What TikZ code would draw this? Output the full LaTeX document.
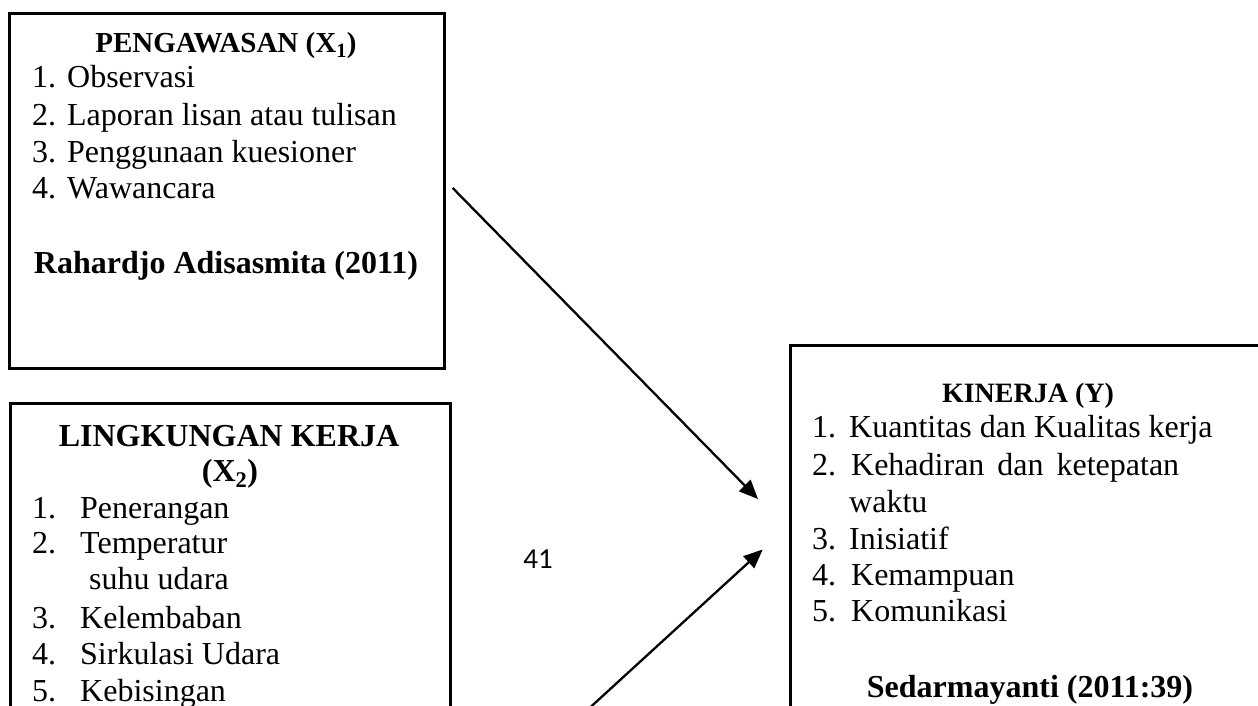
\documentclass[tikz,border=0pt]{standalone}
\usepackage{fontspec}
\setmainfont{Liberation Serif}
\newfontfamily\calib{Carlito}
\usetikzlibrary{arrows.meta}
\begin{document}
\begin{tikzpicture}[x=1pt,y=-1pt,
  box/.style={draw=black,line width=3pt,inner sep=0pt,outer sep=0pt,fill=none},
  txt/.style={anchor=base west,inner sep=0pt,font=\fontsize{32}{36}\selectfont},
  ttl/.style={anchor=base,inner sep=0pt,font=\fontsize{32}{36}\selectfont\bfseries},
  sttl/.style={anchor=base,inner sep=0pt,font=\fontsize{#1}{33}\selectfont\bfseries},
  arr/.style={line width=2.3pt,-{Triangle[length=19pt,width=16pt]}}]
\useasboundingbox (0,0) rectangle (1258,706);
\fill[white] (0,0) rectangle (1258,706);
% boxes
\node[box,minimum width=435pt,minimum height=354pt,anchor=north west] (b1) at (9,14) {};
\node[box,minimum width=440pt,minimum height=400pt,anchor=north west] (b2) at (10,403) {};
\node[box,minimum width=470pt,minimum height=420pt,anchor=north west] (b3) at (790,345) {};
% box 1
\node[sttl=29] (t1) at (226,53) {PENGAWASAN (X\textsubscript{1})};
\node[txt] (p1) at (32,88) {\makebox[35pt][l]{1.}Observasi};
\node[txt] (p2) at (32,125) {\makebox[35pt][l]{2.}Laporan lisan atau tulisan};
\node[txt] (p3) at (32,162) {\makebox[35pt][l]{3.}Penggunaan kuesioner};
\node[txt] (p4) at (32,198) {\makebox[35pt][l]{4.}Wawancara};
\node[ttl] (r1) at (226,273) {Rahardjo Adisasmita (2011)};
% box 2
\node[ttl] (t2) at (229,446) {LINGKUNGAN KERJA};
\node[ttl] (t2b) at (230,481) {(X\textsubscript{2})};
\node[txt] (l1) at (32,518) {\makebox[48pt][l]{1.}Penerangan};
\node[txt] (l2) at (32,553) {\makebox[48pt][l]{2.}Temperatur};
\node[txt] (l2b) at (89,589) {suhu udara};
\node[txt] (l3) at (32,628) {\makebox[48pt][l]{3.}Kelembaban};
\node[txt] (l4) at (32,664) {\makebox[48pt][l]{4.}Sirkulasi Udara};
\node[txt] (l5) at (32,701) {\makebox[48pt][l]{5.}Kebisingan};
% box 3
\node[sttl=28] (t3) at (1028,402) {KINERJA (Y)};
\node[txt] (k1) at (812,437) {\makebox[37pt][l]{1.}Kuantitas dan Kualitas kerja};
\node[txt] (k2) at (812,475) {\makebox[39pt][l]{2.}\makebox[328pt][s]{Kehadiran dan ketepatan}};
\node[txt] (k2b) at (849,512) {waktu};
\node[txt] (k3) at (812,549) {\makebox[37pt][l]{3.}Inisiatif};
\node[txt] (k4) at (812,585) {\makebox[39pt][l]{4.}Kemampuan};
\node[txt] (k5) at (812,621) {\makebox[39pt][l]{5.}Komunikasi};
\node[ttl] (s3) at (1030,697) {Sedarmayanti (2011:39)};
% page number
\node[anchor=base,inner sep=0pt,font=\calib\fontsize{29}{33}\selectfont] (pg) at (538,568) {41};
% arrows
\coordinate (a1s) at (452.7,188);
\coordinate (a1e) at (758,499);
\coordinate (a2s) at (576.4,720);
\coordinate (a2e) at (762.7,549.5);
\draw[arr] (a1s) -- (a1e);
\draw[arr] (a2s) -- (a2e);
\end{tikzpicture}
\end{document}
